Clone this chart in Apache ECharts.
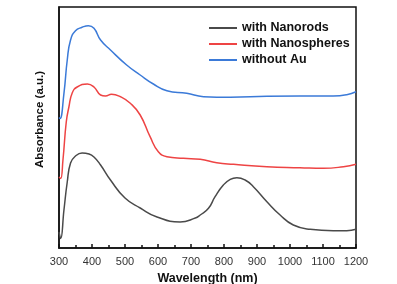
<!DOCTYPE html>
<html>
<head>
<meta charset="utf-8">
<script src="https://cdn.jsdelivr.net/npm/echarts@6/dist/echarts.min.js"></script>
<style>
html, body { margin: 0; padding: 0; background: #fff; }
#main { width: 397px; height: 284px; }
</style>
</head>
<body>
<div id="main"></div>
<script>
// wavelength (nm) / absorbance (a.u.)
var rodsX = [300, 305, 315, 325, 335, 350, 370, 391, 406, 426, 456, 500, 546, 597, 667, 713, 728, 753, 773, 798, 819, 839, 864, 889, 930, 970, 1010, 1061, 1131, 1172, 1200];
var rodsY = [16, 9.5, 38, 66, 85, 92, 95, 94, 91, 83, 68, 50, 40, 31, 26, 30, 33, 39.7, 51.3, 63, 68.7, 70.3, 68, 61.3, 46.3, 33, 23, 18.7, 17.3, 17.3, 18.7];

var spheresX = [300, 305, 312, 322, 330, 340, 355, 386, 406, 426, 441, 459, 486, 516, 546, 576, 601, 627, 677, 728, 778, 829, 930, 1030, 1101, 1162, 1200];
var spheresY = [71, 69.5, 88, 126, 141, 155, 161, 164, 161, 153, 152, 153.7, 151.3, 144.7, 133, 111.3, 96.3, 91.3, 89.7, 88.7, 85.3, 83.7, 81.3, 80.3, 79.7, 81.3, 83.7];

var noAuX = [300, 303, 315, 325, 335, 350, 370, 389, 406, 426, 456, 505, 546, 586, 627, 687, 738, 819, 930, 1030, 1131, 1172, 1200];
var noAuY = [130.5, 129.5, 154.7, 188, 208, 217.3, 220.7, 222.3, 219.7, 208, 198, 183, 173, 164, 157.3, 154.7, 151.3, 150.7, 151.7, 152, 152, 153.3, 156.3];

var seriesNames = ['with Nanorods', 'with Nanospheres', 'without Au'];
var seriesColors = ['#4a4a4a', '#ee4444', '#3b7ad8'];

function pairs(xs, ys) {
	var out = [];
	for (var i = 0; i < xs.length; i++) {
		out.push([xs[i], ys[i]]);
	}
	return out;
}

var myChart = echarts.init(document.getElementById('main'));

var font = '"Liberation Sans", Arial, sans-serif';
var allData = [pairs(rodsX, rodsY), pairs(spheresX, spheresY), pairs(noAuX, noAuY)];

var option = {
	animation : false,
	backgroundColor : '#fff',
	grid : {
		left : 59,
		right : 41,
		top : 7,
		bottom : 36,
		outerBoundsMode : 'none',
		show : true,
		borderColor : '#111',
		borderWidth : 1.5
	},
	legend : {
		orient : 'vertical',
		left : 209,
		top : 21,
		padding : 0,
		icon : 'rect',
		itemWidth : 28,
		itemHeight : 2,
		itemGap : 2,
		data : seriesNames,
		textStyle : {
			fontFamily : font,
			fontWeight : 'bold',
			fontSize : 12.5,
			lineHeight : 14,
			color : '#111'
		}
	},
	xAxis : {
		type : 'value',
		min : 300,
		max : 1200,
		interval : 100,
		name : 'Wavelength (nm)',
		nameLocation : 'middle',
		nameGap : 24,
		nameTextStyle : {
			fontFamily : font,
			fontWeight : 'bold',
			fontSize : 12.5,
			color : '#111'
		},
		axisLine : { lineStyle : { color : '#111', width : 1.5 } },
		axisTick : { inside : true, length : 4, lineStyle : { color : '#111', width : 1.5 } },
		minorTick : { show : true, splitNumber : 2, length : 3, lineStyle : { color : '#111', width : 1.5 } },
		axisLabel : {
			fontFamily : font,
			fontSize : 11,
			color : '#333',
			margin : 8,
			formatter : function(v) { return String(v); }
		},
		splitLine : { show : false }
	},
	yAxis : {
		type : 'value',
		min : 0,
		max : 241,
		name : 'Absorbance (a.u.)',
		nameLocation : 'middle',
		nameGap : 13,
		nameTextStyle : {
			fontFamily : font,
			fontWeight : 'bold',
			fontSize : 11.5,
			color : '#111',
			padding : [0, 0, 0, 16]
		},
		axisLine : { show : true, lineStyle : { color : '#111', width : 1.5 } },
		axisTick : { show : false },
		axisLabel : { show : false },
		splitLine : { show : false }
	},
	series : []
};

for (var k = 0; k < seriesNames.length; k++) {
	option.series.push({
		name : seriesNames[k],
		type : 'line',
		data : allData[k],
		smooth : 0.5,
		symbol : 'none',
		lineStyle : { color : seriesColors[k], width : 1.5 },
		itemStyle : { color : seriesColors[k] }
	});
}

myChart.setOption(option);
</script>
</body>
</html>
